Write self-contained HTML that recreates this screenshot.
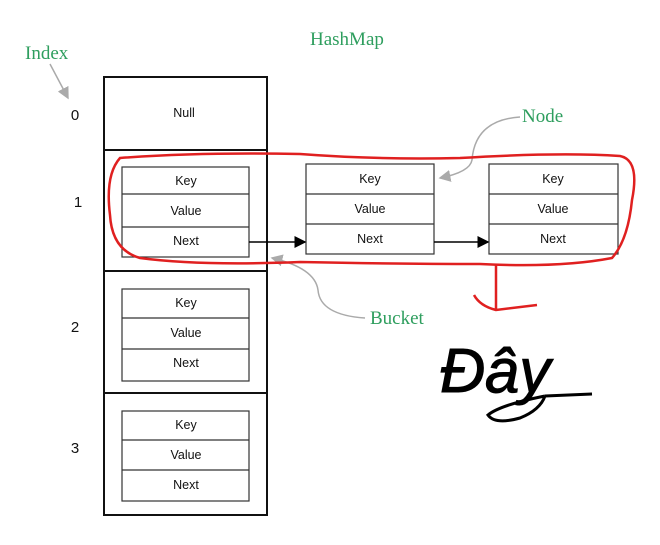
<!DOCTYPE html>
<html><head><meta charset="utf-8"><style>
html,body{margin:0;padding:0;background:#fff;width:660px;height:545px;overflow:hidden}
svg{display:block}
.s{font-family:"Liberation Sans",sans-serif;font-size:12.5px;fill:#111;text-anchor:middle}
.g{font-family:"Liberation Serif",serif;font-size:19px;fill:#2e9e5e}
.n{font-family:"Liberation Sans",sans-serif;font-size:15px;fill:#111;text-anchor:middle}
</style></head><body>
<svg width="660" height="545" viewBox="0 0 660 545">
<defs><marker id="a" markerWidth="8" markerHeight="8" refX="7" refY="4" orient="auto"><path d="M0,0 L8,4 L0,8z" fill="#000"/></marker>
<marker id="b" markerWidth="8" markerHeight="8" refX="7" refY="4" orient="auto"><path d="M0,0 L8,4 L0,8z" fill="#aaa"/></marker></defs>
<text class="g" x="310" y="45">HashMap</text>
<text class="g" x="25" y="59">Index</text>
<text class="g" x="522" y="122">Node</text>
<text class="g" x="370" y="324">Bucket</text>
<path d="M50,64 L68,98" stroke="#aaa" stroke-width="1.5" fill="none" marker-end="url(#b)"/>
<path d="M520,117 Q475,120 472,160 Q470,172 440,178" stroke="#aaa" stroke-width="1.5" fill="none" marker-end="url(#b)"/>
<path d="M365,318 Q320,315 318,290 Q315,268 272,258" stroke="#aaa" stroke-width="1.5" fill="none" marker-end="url(#b)"/>
<text class="n" x="75" y="120">0</text><text class="n" x="78" y="207">1</text>
<text class="n" x="75" y="332">2</text><text class="n" x="75" y="453">3</text>
<g fill="none" stroke="#111" stroke-width="2">
<rect x="104" y="77" width="163" height="438"/>
<line x1="104" y1="150" x2="267" y2="150"/><line x1="104" y1="271" x2="267" y2="271"/><line x1="104" y1="393" x2="267" y2="393"/>
</g>
<g fill="none" stroke="#333" stroke-width="1.2">
<rect x="122" y="167" width="127" height="90"/><line x1="122" y1="194" x2="249" y2="194"/><line x1="122" y1="227" x2="249" y2="227"/>
<rect x="122" y="289" width="127" height="92"/><line x1="122" y1="318" x2="249" y2="318"/><line x1="122" y1="349" x2="249" y2="349"/>
<rect x="122" y="411" width="127" height="90"/><line x1="122" y1="440" x2="249" y2="440"/><line x1="122" y1="470" x2="249" y2="470"/>
<rect x="306" y="164" width="128" height="90"/><line x1="306" y1="194" x2="434" y2="194"/><line x1="306" y1="224" x2="434" y2="224"/>
<rect x="489" y="164" width="129" height="90"/><line x1="489" y1="194" x2="618" y2="194"/><line x1="489" y1="224" x2="618" y2="224"/>
</g>
<text class="s" x="184" y="117">Null</text>
<text class="s" x="186" y="185">Key</text><text class="s" x="186" y="215">Value</text><text class="s" x="186" y="245">Next</text>
<text class="s" x="186" y="307">Key</text><text class="s" x="186" y="337">Value</text><text class="s" x="186" y="367">Next</text>
<text class="s" x="186" y="429">Key</text><text class="s" x="186" y="459">Value</text><text class="s" x="186" y="489">Next</text>
<text class="s" x="370" y="183">Key</text><text class="s" x="370" y="213">Value</text><text class="s" x="370" y="243">Next</text>
<text class="s" x="553" y="183">Key</text><text class="s" x="553" y="213">Value</text><text class="s" x="553" y="243">Next</text>
<line x1="249" y1="242" x2="305" y2="242" stroke="#000" stroke-width="1.5" marker-end="url(#a)"/>
<line x1="434" y1="242" x2="488" y2="242" stroke="#000" stroke-width="1.5" marker-end="url(#a)"/>
<path d="M120,158 Q105,175 110,215 Q112,250 140,258 Q200,266 300,262 Q400,264 480,264 Q560,268 612,258 Q628,240 632,200 Q640,160 620,156 Q560,152 460,158 Q380,160 300,154 Q200,152 120,158 Z" fill="none" stroke="#e02020" stroke-width="2.5"/>
<path d="M496,264 L496,310 M474,295 Q480,306 496,310 L537,305" fill="none" stroke="#e02020" stroke-width="2.5"/>
<text x="440" y="392" font-family="Liberation Sans,sans-serif" font-size="62" font-style="italic" fill="#000" stroke="#000" stroke-width="1">Đây</text>
<path d="M545,396 L592,394 M545,396 Q500,405 488,415 Q495,425 520,418 Q540,410 545,396" fill="none" stroke="#000" stroke-width="3"/>
</svg>
</body></html>
